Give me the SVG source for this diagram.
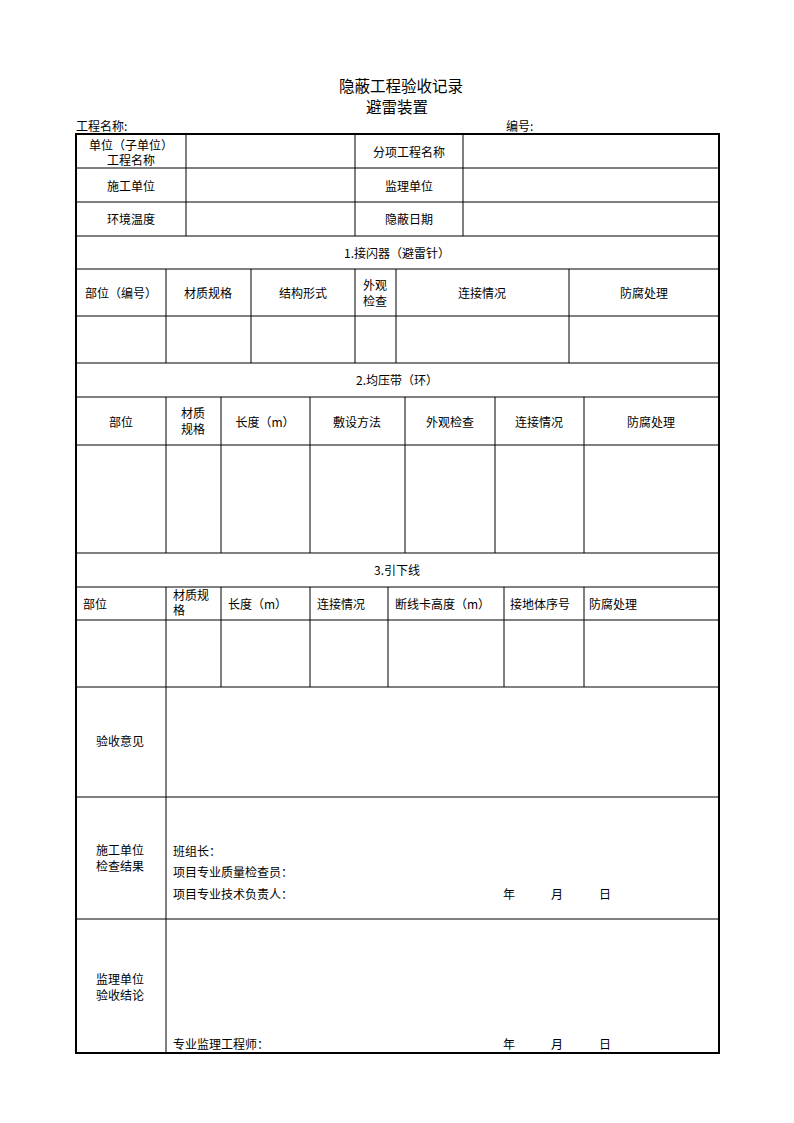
<svg xmlns="http://www.w3.org/2000/svg" width="794" height="1123" viewBox="0 0 794 1123">
<style>
text{font-family:"Noto Sans CJK SC","Liberation Sans",sans-serif;font-size:12px;fill:#000}
.c{text-anchor:middle}
.t{font-size:15.5px}
.g line{stroke:#000;stroke-width:1}
.o{fill:none;stroke:#000;stroke-width:2}
</style>
<rect width="794" height="1123" fill="#fff"/>
<g id="title">
<text class="c t" x="401" y="92">隐蔽工程验收记录</text>
<text class="c t" x="397" y="113">避雷装置</text>
<text x="76" y="131">工程名称:</text>
<text x="506" y="131">编号:</text>
</g>
<g id="grid" class="g">
<line x1="76" y1="168" x2="719" y2="168"/>
<line x1="76" y1="202" x2="719" y2="202"/>
<line x1="76" y1="236" x2="719" y2="236"/>
<line x1="186" y1="134" x2="186" y2="236"/>
<line x1="355" y1="134" x2="355" y2="236"/>
<line x1="463" y1="134" x2="463" y2="236"/>
<line x1="76" y1="269" x2="719" y2="269"/>
<line x1="76" y1="316" x2="719" y2="316"/>
<line x1="76" y1="363" x2="719" y2="363"/>
<line x1="166" y1="269" x2="166" y2="363"/>
<line x1="251" y1="269" x2="251" y2="363"/>
<line x1="355" y1="269" x2="355" y2="363"/>
<line x1="396" y1="269" x2="396" y2="363"/>
<line x1="569" y1="269" x2="569" y2="363"/>
<line x1="76" y1="397" x2="719" y2="397"/>
<line x1="76" y1="445" x2="719" y2="445"/>
<line x1="76" y1="553" x2="719" y2="553"/>
<line x1="166" y1="397" x2="166" y2="553"/>
<line x1="221" y1="397" x2="221" y2="553"/>
<line x1="310" y1="397" x2="310" y2="553"/>
<line x1="405" y1="397" x2="405" y2="553"/>
<line x1="495" y1="397" x2="495" y2="553"/>
<line x1="584" y1="397" x2="584" y2="553"/>
<line x1="76" y1="587" x2="719" y2="587"/>
<line x1="76" y1="620" x2="719" y2="620"/>
<line x1="76" y1="687" x2="719" y2="687"/>
<line x1="166" y1="587" x2="166" y2="687"/>
<line x1="221" y1="587" x2="221" y2="687"/>
<line x1="310" y1="587" x2="310" y2="687"/>
<line x1="388" y1="587" x2="388" y2="687"/>
<line x1="504" y1="587" x2="504" y2="687"/>
<line x1="584" y1="587" x2="584" y2="687"/>
<line x1="76" y1="797" x2="719" y2="797"/>
<line x1="76" y1="919" x2="719" y2="919"/>
<line x1="166" y1="687" x2="166" y2="1053"/>
<rect class="o" x="76" y="134" width="643" height="919"/>
</g>
<g id="info">
<text class="c" x="131" y="150">单位（子单位）</text>
<text class="c" x="131" y="165">工程名称</text>
<text class="c" x="131" y="191">施工单位</text>
<text class="c" x="131" y="224">环境温度</text>
<text class="c" x="409" y="157">分项工程名称</text>
<text class="c" x="409" y="191">监理单位</text>
<text class="c" x="409" y="224">隐蔽日期</text>
</g>
<g id="sec1">
<text class="c" x="397" y="258">1.接闪器（避雷针）</text>
<text class="c" x="121" y="298">部位（编号）</text>
<text class="c" x="208" y="298">材质规格</text>
<text class="c" x="303" y="298">结构形式</text>
<text class="c" x="375" y="290">外观</text>
<text class="c" x="375" y="306">检查</text>
<text class="c" x="482" y="298">连接情况</text>
<text class="c" x="644" y="298">防腐处理</text>
</g>
<g id="sec2">
<text class="c" x="397" y="385">2.均压带（环）</text>
<text class="c" x="121" y="427">部位</text>
<text class="c" x="193" y="418">材质</text>
<text class="c" x="193" y="434">规格</text>
<text class="c" x="265" y="427">长度（m）</text>
<text class="c" x="357" y="427">敷设方法</text>
<text class="c" x="450" y="427">外观检查</text>
<text class="c" x="539" y="427">连接情况</text>
<text class="c" x="651" y="427">防腐处理</text>
</g>
<g id="sec3">
<text class="c" x="397" y="575">3.引下线</text>
<text x="83" y="609">部位</text>
<text x="173" y="600">材质规</text>
<text x="173" y="615">格</text>
<text x="228" y="609">长度（m）</text>
<text x="317" y="609">连接情况</text>
<text x="395" y="609">断线卡高度（m）</text>
<text x="510" y="609">接地体序号</text>
<text x="589" y="609">防腐处理</text>
</g>
<g id="opinion">
<text class="c" x="120" y="746">验收意见</text>
</g>
<g id="construction">
<text class="c" x="120" y="855">施工单位</text>
<text class="c" x="120" y="871">检查结果</text>
<text x="173" y="856">班组长：</text>
<text x="173" y="877">项目专业质量检查员：</text>
<text x="173" y="899">项目专业技术负责人：</text>
<text x="503" y="899">年</text>
<text x="551" y="899">月</text>
<text x="599" y="899">日</text>
</g>
<g id="supervision">
<text class="c" x="120" y="984">监理单位</text>
<text class="c" x="120" y="1000">验收结论</text>
<text x="173" y="1049">专业监理工程师：</text>
<text x="503" y="1049">年</text>
<text x="551" y="1049">月</text>
<text x="599" y="1049">日</text>
</g>
</svg>
